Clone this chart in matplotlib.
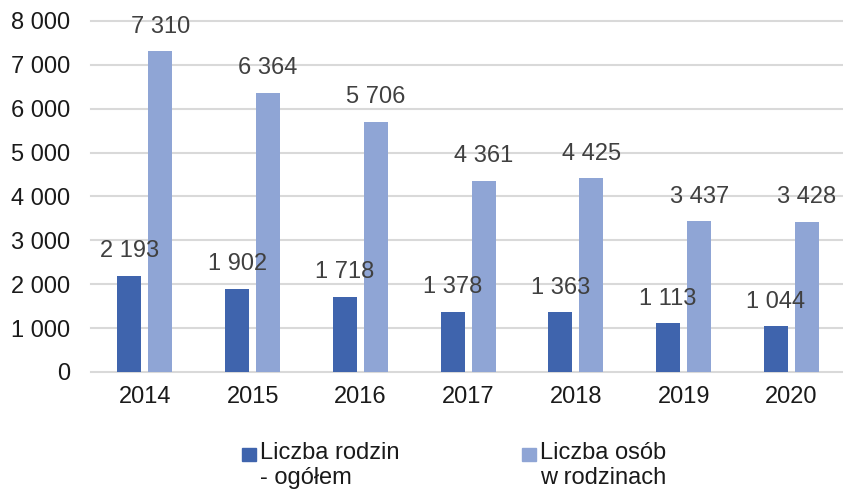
import numpy as np
from matplotlib import pyplot as plt
from matplotlib.patches import Rectangle

years = ['2014', '2015', '2016', '2017', '2018', '2019', '2020']
families = [2193, 1902, 1718, 1378, 1363, 1113, 1044]
persons = [7310, 6364, 5706, 4361, 4425, 3437, 3428]
y_ticks = [0, 1000, 2000, 3000, 4000, 5000, 6000, 7000, 8000]
legend_labels = ['Liczba rodzin\n- ogółem', 'Liczba osób\nw rodzinach']

dark = '#3f64ad'
light = '#8fa5d5'

plt.rcParams['font.family'] = ['Liberation Sans', 'DejaVu Sans']


def fmt(v):
    return f'{v:,}'.replace(',', ' ')


W, H = 843, 493
fig = plt.figure(figsize=(W / 100, H / 100), dpi=100)
ax = fig.add_axes([91 / W, (H - 372) / H, 754.3 / W, 351 / H])

x = np.arange(len(years))
bw = 0.223
off = 0.144
b1 = ax.bar(x - off, families, bw, color=dark, zorder=3)
b2 = ax.bar(x + off, persons, bw, color=light, zorder=3)

for bars, vals in ((b1, families), (b2, persons)):
    for rect, v in zip(bars, vals):
        ax.annotate(fmt(v), (rect.get_x() + rect.get_width() / 2, v),
                    xytext=(0, 17.5), textcoords='offset points',
                    ha='center', va='center', fontsize=17, color='#404040', zorder=4)

ax.set_xlim(-0.5, len(years) - 0.5)
ax.set_ylim(0, 8000)
ax.set_xticks(x)
ax.set_xticklabels(years)
ax.set_yticks(y_ticks)
ax.set_yticklabels([fmt(t) for t in y_ticks])
ax.tick_params(axis='both', length=0, labelsize=17, colors='#1a1a1a')
ax.tick_params(axis='x', pad=10)
ax.tick_params(axis='y', pad=15)
for s in ax.spines.values():
    s.set_visible(False)
ax.yaxis.grid(True, color='#d9d9d9', linewidth=1.5, zorder=0)
for gl in ax.get_ygridlines():
    gl.set_clip_on(False)
ax.set_axisbelow(True)

# legend drawn by hand so the squares sit on the first line
for xm, xt, col, lab in ((242, 260, dark, legend_labels[0]),
                         (522, 540, light, legend_labels[1])):
    fig.patches.append(Rectangle((xm / W, (H - 461) / H), 14 / W, 13 / H,
                                 transform=fig.transFigure, color=col))
    fig.text(xt / W, (H - 442) / H, lab, ha='left', va='top', fontsize=17,
             color='#1a1a1a', linespacing=1.2)

fig.savefig('out.png', dpi=100)
